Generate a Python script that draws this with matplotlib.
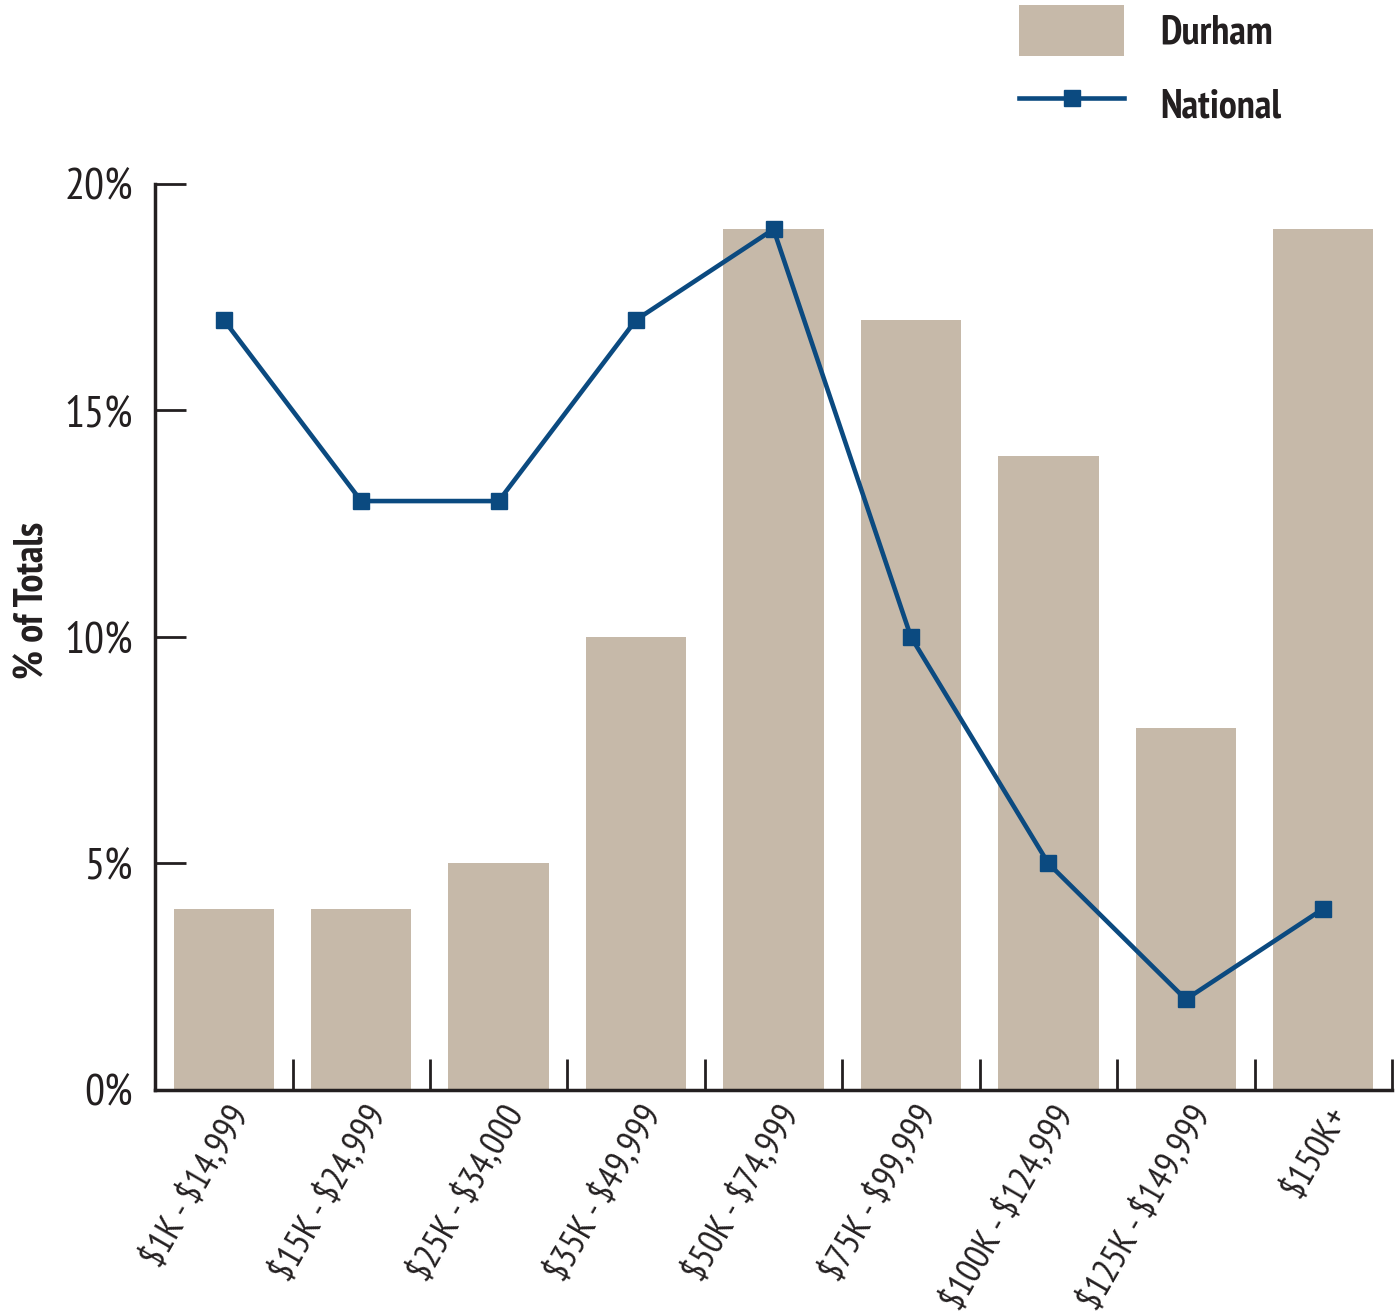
import numpy as np
import matplotlib
matplotlib.use("Agg")
from matplotlib import pyplot as plt
from matplotlib import transforms

# income brackets and shares (%)
categories = ["$1K - $14,999", "$15K - $24,999", "$25K - $34,000", "$35K - $49,999",
              "$50K - $74,999", "$75K - $99,999", "$100K - $124,999", "$125K - $149,999",
              "$150K+"]
durham = [4, 4, 5, 10, 19, 17, 14, 8, 19]
national = [17, 13, 13, 17, 19, 10, 5, 2, 4]
y_ticks = [0, 5, 10, 15, 20]
y_tick_labels = ["0%", "5%", "10%", "15%", "20%"]

plt.rcParams['text.parse_math'] = False
plt.rcParams['font.family'] = ['PT Sans Narrow', 'Fira Sans Condensed', 'Roboto Condensed',
                               'Open Sans Condensed', 'Liberation Sans Narrow', 'DejaVu Sans']

bar_color = '#C6B9A9'
line_color = '#0B4A80'
text_color = '#231F20'

fig = plt.figure(figsize=(13.97, 13.14), dpi=100)
ax = fig.add_axes([0.111, 0.1705, 0.8854, 0.6895])

x = np.arange(len(categories))
bars = ax.bar(x, durham, width=0.73, color=bar_color, label='Durham', zorder=1)
line, = ax.plot(x, national, color=line_color, lw=3.3, marker='s', markersize=12,
                label='National', zorder=3)

ax.set_xlim(-0.5, len(categories) - 0.5)
ax.set_ylim(0, 20)
ax.set_yticks(y_ticks)
ax.set_yticklabels(y_tick_labels, fontsize=32, color=text_color)
ax.tick_params(axis='y', direction='in', length=22, width=2, color=text_color, pad=16)

# ticks between categories on the x axis, labels at the centres
ax.set_xticks(np.arange(len(categories) + 1) - 0.5)
ax.set_xticklabels([])
ax.set_xticks(x, minor=True)
ax.set_xticklabels(categories, minor=True, rotation=60, ha='right', va='center',
                   rotation_mode='anchor', fontsize=26.5, color=text_color)
ax.tick_params(axis='x', which='major', direction='in', length=22, width=2, color=text_color)
ax.tick_params(axis='x', which='minor', length=0, pad=13)
shift = transforms.ScaledTranslation(17 / 100, 0, fig.dpi_scale_trans)
for lbl in ax.get_xticklabels(minor=True):
    lbl.set_transform(lbl.get_transform() + shift)

ax.spines['top'].set_visible(False)
ax.spines['right'].set_visible(False)
for s in ['left', 'bottom']:
    ax.spines[s].set_linewidth(2.5)
    ax.spines[s].set_color(text_color)

ax.set_ylabel("% of Totals", fontsize=29, fontweight='bold', color=text_color)
ax.yaxis.set_label_coords(-0.084, 0.54)

leg = ax.legend([bars, line], ['Durham', 'National'], loc='upper left',
                bbox_to_anchor=(0.7036, 1.024), bbox_transform=fig.transFigure,
                frameon=False, fontsize=29, handlelength=2.6, handleheight=1.6,
                labelspacing=0.55, handletextpad=0.9)
for t in leg.get_texts():
    t.set_fontweight('bold')
    t.set_color(text_color)

fig.savefig("out.png", dpi=100)
